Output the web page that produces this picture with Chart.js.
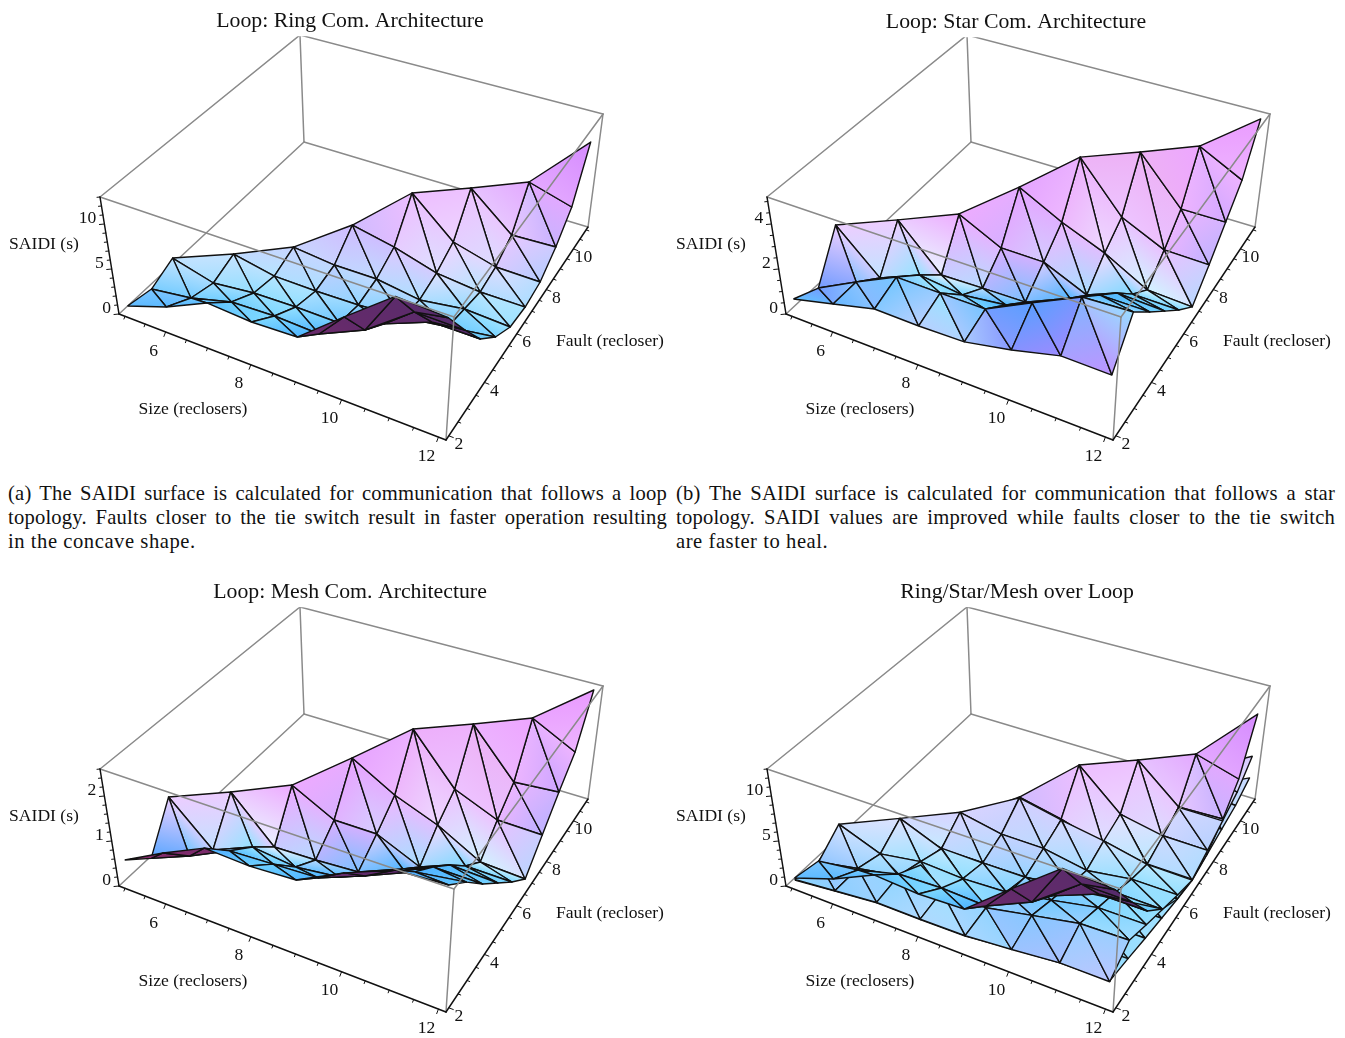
<!DOCTYPE html>
<html><head><meta charset="utf-8">
<script src="https://cdn.jsdelivr.net/npm/chart.js@4/dist/chart.umd.js"></script>
<style>
html,body{margin:0;padding:0;background:#fff;width:1345px;height:1038px;overflow:hidden}
canvas{position:absolute;filter:blur(.4px)}
.cap{position:absolute;top:481px;width:659px;font:20.6px/24px "Liberation Serif",serif;color:#111;letter-spacing:.2px}
.cap div{text-align:justify;text-align-last:justify;white-space:nowrap}
.cap div.last{text-align-last:left;letter-spacing:.55px}
</style></head><body>
<canvas id="c0" width="672" height="470" style="left:0;top:0"></canvas>
<canvas id="c1" width="673" height="470" style="left:672px;top:0"></canvas>
<canvas id="c2" width="672" height="466" style="left:0;top:572px"></canvas>
<canvas id="c3" width="673" height="466" style="left:672px;top:572px"></canvas>
<div class="cap" style="left:8px"><div>(a) The SAIDI surface is calculated for communication that follows a loop</div><div>topology. Faults closer to the tie switch result in faster operation resulting</div><div class="last">in the concave shape.</div></div>
<div class="cap" style="left:676px"><div>(b) The SAIDI surface is calculated for communication that follows a star</div><div>topology. SAIDI values are improved while faults closer to the tie switch</div><div class="last">are faster to heal.</div></div>
<script>
// Network sizes (reclosers); each row of a series holds faults 2 .. size-1
const sizes=[5,6,7,8,9,10,11,12];
const firstFault=2;
const ringValues=[
[0.77,0.24,1.39],
[2.38,0.90,0.18,1.13],
[4.56,2.15,0.70,0.23,1.22],
[4.26,2.33,0.82,0.18,0.75,3.03],
[4.45,2.13,0.77,0.28,0.78,2.07,6.00],
[8.48,4.37,2.42,0.60,0.08,0.72,1.94,5.90],
[12.54,8.15,4.41,1.30,0.76,0.22,0.68,2.04,5.93],
[12.20,8.07,4.39,1.96,0.49,0.21,0.60,2.22,4.54,9.87]];
const starValues=[
[0.62,0.14,2.05],
[1.08,1.07,0.30,2.00],
[1.56,1.96,1.08,0.14,1.99],
[1.53,1.94,0.86,0.20,1.07,2.94],
[1.57,1.94,1.10,0.24,1.07,1.96,4.04],
[1.97,2.92,1.96,1.09,0.25,1.19,1.91,4.01],
[2.48,3.90,2.93,2.00,0.96,0.18,1.04,2.00,4.02],
[2.45,4.00,2.92,1.91,0.94,0.09,1.00,2.01,3.04,5.01]];
const meshValues=[
[0.555,0.108,1.025],
[1.05,0.49,0.148,0.998],
[1.50,0.94,0.541,0.069,1.017],
[1.46,0.99,0.430,0.102,0.534,1.495],
[1.518,1.04,0.550,0.166,0.537,0.957,2.022],
[2.04,1.44,0.98,0.57,0.127,0.594,0.954,2.004],
[2.475,1.89,1.467,1.000,0.482,0.089,0.563,0.975,2.012],
[2.54,2.04,1.459,0.957,0.471,0.043,0.544,1.052,1.522,2.527]];
const sizeTicks=[6,8,10,12];
const faultTicks=[2,4,6,8,10];
const titles=["Loop: Ring Com. Architecture","Loop: Star Com. Architecture","Loop: Mesh Com. Architecture","Ring/Star/Mesh over Loop"];
const saidiTicks=[[0,5,10],[0,2,4],[0,1,2],[0,5,10]];
const saidiMinor=[1,0.5,0.2,1];
const saidiTop=[13,5.2,2.6,13];
const surfaces=[[ringValues],[starValues],[meshValues],[ringValues,starValues,meshValues]];

// ---- view of the box ----
const sMin=4.85,sMax=12.15,fMin=1.85,fMax=11.15;
const panels=[{dx:0,cx:350,tp:8},{dx:-5,cx:344,tp:9},{dx:0,cx:350,tp:7},{dx:-5,cx:345,tp:7}];
function homo(p){const [x0,y0]=p[0],[x1,y1]=p[1],[x2,y2]=p[2],[x3,y3]=p[3];
 const dx1=x1-x2,dx2=x3-x2,sx=x0-x1+x2-x3,dy1=y1-y2,dy2=y3-y2,sy=y0-y1+y2-y3,den=dx1*dy2-dx2*dy1;
 const g=(sx*dy2-dx2*sy)/den,h=(dx1*sy-sx*dy1)/den;
 const a=x1-x0+g*x1,b=x3-x0+h*x3,d=y1-y0+g*y1,e=y3-y0+h*y3;
 return (u,v)=>{const q=g*u+h*v+1;return [(a*u+b*v+x0)/q,(d*u+e*v+y0)/q];};}
const floorMap=homo([[119,314],[446,440],[588,227],[304,142]]);
const topMap=homo([[100,197],[454,317],[603,114],[300,35]]);
function proj(u,v,w,dx){const a=floorMap(u,v),b=topMap(u,v);return {x:a[0]+(b[0]-a[0])*w+dx,y:a[1]+(b[1]-a[1])*w};}
const th=27*Math.PI/180,el=46*Math.PI/180,Lz=0.38;
const U=[Math.cos(th),-Math.sin(th)*Math.sin(el),Math.sin(th)*Math.cos(el)];
const V=[Math.sin(th),Math.cos(th)*Math.sin(el),-Math.cos(th)*Math.cos(el)];
const W=[0,Math.cos(el),Math.sin(el)];
const nrm=a=>{const l=Math.hypot(a[0],a[1],a[2])||1;return a.map(x=>x/l);};
const lights=[{c:[.8,0,0],d:nrm([1.5,-.5,2])},{c:[0,.8,0],d:nrm([1.5,1.5,2])},{c:[0,0,.8],d:nrm([-.5,1.5,2])}];
const ambient=[.312,.188,.48];
const toView=n=>[0,1,2].map(i=>n[0]*U[i]+n[1]*V[i]+n[2]*W[i]);
function shade(n){const c=ambient.slice();for(const L of lights){const k=Math.max(0,n[0]*L.d[0]+n[1]*L.d[1]+n[2]*L.d[2]);for(let i=0;i<3;i++)c[i]+=L.c[i]*k;}return [Math.min(.93,c[0]),Math.min(1,c[1]),Math.min(1,c[2])];}
const css=c=>`rgb(${c.map(x=>Math.round(x*255)).join(',')})`;
const cross=(a,b)=>[a[1]*b[2]-a[2]*b[1],a[2]*b[0]-a[0]*b[2],a[0]*b[1]-a[1]*b[0]];
const sub=(a,b)=>[a[0]-b[0],a[1]-b[1],a[2]-b[2]];

function triGradient(ctx,p,c){
 let best=[0,1,2],md=-1;
 for(const [i,j,k] of [[0,1,2],[0,2,1],[1,2,0]]){const d=Math.hypot(...sub(c[i],c[j]));if(d>md){md=d;best=[i,j,k];}}
 const [i,j,k]=best;if(md<.004)return css(c[0]);
 const ab=sub(c[j],c[i]),ac=sub(c[k],c[i]);
 const t=Math.max(0,Math.min(1,(ab[0]*ac[0]+ab[1]*ac[1]+ab[2]*ac[2])/(md*md)));
 const qx=p[i].x+(p[j].x-p[i].x)*t,qy=p[i].y+(p[j].y-p[i].y)*t;
 let nx=-(p[k].y-qy),ny=p[k].x-qx;const l=Math.hypot(nx,ny)||1;nx/=l;ny/=l;
 const d=(p[j].x-p[i].x)*nx+(p[j].y-p[i].y)*ny;
 const g=ctx.createLinearGradient(p[i].x,p[i].y,p[i].x+nx*d,p[i].y+ny*d);
 g.addColorStop(0,css(c[i]));g.addColorStop(1,css(c[j]));return g;
}
function surfaceTriangles(values,top,dx,ctx){
 const P=(a,b)=>{const s=sizes[a],f=firstFault+b;return [(s-sMin)/(sMax-sMin),(f-fMin)/(fMax-fMin),values[a][b]/top];};
 const has=(a,b)=>a>=0&&a<values.length&&b>=0&&b<values[a].length;
 const tris=[];
 values.forEach((row,a)=>{ if(a+1>=values.length)return;
  row.forEach((_,b)=>{
   if(has(a,b+1))tris.push([[a,b],[a+1,b],[a,b+1]]);
   if(has(a,b+1))tris.push([[a+1,b],[a+1,b+1],[a,b+1]]);
   else tris.push([[a,b],[a+1,b],[a+1,b+1]]);
  });});
 const faceN=t=>{const p=t.map(q=>P(q[0],q[1]).map((x,i)=>i==2?x*Lz:x));return cross(sub(p[1],p[0]),sub(p[2],p[0]));};
 const acc={};
 tris.forEach(t=>{const n=faceN(t);t.forEach(q=>{const k=q.join();acc[k]=acc[k]||[0,0,0];for(let i=0;i<3;i++)acc[k][i]+=n[i];});});
 return tris.map(t=>{
  const q3=t.map(q=>P(q[0],q[1]));
  const pts=q3.map(q=>proj(q[0],q[1],q[2],dx));
  const area=(pts[1].x-pts[0].x)*(pts[2].y-pts[0].y)-(pts[1].y-pts[0].y)*(pts[2].x-pts[0].x);
  const back=area>0;
  // the underside only receives the ambient purple, warmer toward the small sizes
  const cols=q3.map((q,i)=>back?[.53-.2*q[0],.17,.42]:shade(nrm(toView(acc[t[i].join()]))));
  const c=[0,1,2].map(i=>q3.reduce((m,q)=>m+q[i],0)/3);
  const depth=c[0]*U[2]+c[1]*V[2]+c[2]*0.45*W[2];
  return {pts,depth,fill:triGradient(ctx,pts,cols)};
 });
}
const line=(pts,color,width,order)=>({data:pts,showLine:true,borderColor:color,borderWidth:width,pointRadius:0,fill:false,order,borderCapStyle:'round',borderJoinStyle:'round'});

const overlay={id:'overlay',afterDraw(chart,_,o){
 const ctx=chart.ctx;ctx.save();ctx.fillStyle='#111';ctx.textBaseline='middle';
 for(const t of o.items){ctx.font=t.font;ctx.textAlign=t.align;
  ctx.fillText(t.text,chart.scales.x.getPixelForValue(t.x),chart.scales.y.getPixelForValue(t.y));}
 ctx.restore();}};

panels.forEach((pn,idx)=>{
 const cv=document.getElementById('c'+idx),ctx=cv.getContext('2d'),dx=pn.dx,top=saidiTop[idx];
 const ds=[];
 const box=(a,b,c,color,w,order)=>ds.push(line([proj(...a,dx),proj(...b,dx)],color,w,order));
 const gray='#8a8a8a';
 [[[0,1,0],[0,1,1]],[[0,1,0],[0,0,0]],[[0,1,0],[1,1,0]],[[0,0,1],[0,1,1]],[[0,1,1],[1,1,1]]].forEach(e=>box(e[0],e[1],0,gray,1.5,5000));
 let tris=[];surfaces[idx].forEach(v=>{tris=tris.concat(surfaceTriangles(v,top,dx,ctx));});
 tris.sort((a,b)=>a.depth-b.depth);
 tris.forEach((t,i)=>ds.push({data:[...t.pts,t.pts[0]],showLine:true,borderColor:'#111',borderWidth:1.4,pointRadius:0,fill:'shape',backgroundColor:t.fill,order:4000-i,borderJoinStyle:'round'}));
 [[[0,0,1],[1,0,1]],[[1,0,1],[1,1,1]],[[1,0,0],[1,0,1]],[[1,1,0],[1,1,1]]].forEach(e=>box(e[0],e[1],0,gray,1.5,-100));
 const blk='#111';
 box([0,0,0],[1,0,0],0,blk,1.5,-200);box([1,0,0],[1,1,0],0,blk,1.5,-200);box([0,0,0],[0,0,1],0,blk,1.5,-200);
 const items=[];
 const su=s=>(s-sMin)/(sMax-sMin),fv=f=>(f-fMin)/(fMax-fMin);
 for(let s=5;s<=12;s+=.5){const m=sizeTicks.includes(s),p=proj(su(s),0,0,dx),l=m?5:3;
  ds.push(line([p,{x:p.x-l*.35,y:p.y+l*.9}],blk,1,-200));}
 for(let f=2;f<=11;f+=.5){const m=faultTicks.includes(f),p=proj(1,fv(f),0,dx),l=m?5:3;
  ds.push(line([p,{x:p.x+l*.9,y:p.y+l*.35}],blk,1,-200));}
 const zMinor=saidiMinor[idx],zt=saidiTicks[idx];
 for(let k=0;k*zMinor<=top;k++){const z=k*zMinor,m=zt.some(t=>Math.abs(t-z)<1e-6),p=proj(0,0,z/top,dx),l=m?5:3;
  ds.push(line([p,{x:p.x-l,y:p.y+l*.1}],blk,1,-200));}
 const tf='17.6px "Liberation Serif"';
 sizeTicks.forEach(s=>{const p=proj(su(s),0,0,dx);items.push({text:String(s),x:p.x-12,y:p.y+19,font:tf,align:'center'});});
 faultTicks.forEach(f=>{const p=proj(1,fv(f),0,dx);items.push({text:String(f),x:p.x+10,y:p.y+8.5,font:tf,align:'center'});});
 zt.forEach(z=>{const p=proj(0,0,z/top,dx);items.push({text:String(z),x:p.x-8,y:p.y-6,font:tf,align:'right'});});
 items.push({text:'SAIDI (s)',x:44+dx,y:244,font:tf,align:'center'});
 items.push({text:'Size (reclosers)',x:193+dx,y:409,font:tf,align:'center'});
 items.push({text:'Fault (recloser)',x:610+dx,y:341,font:tf,align:'center'});
 const fs=21.8,titleH=pn.tp+fs*1.2+2,padL=2*pn.cx-cv.width;
 new Chart(cv,{type:'scatter',data:{datasets:ds},plugins:[overlay],options:{
  responsive:false,animation:false,devicePixelRatio:1,events:[],
  layout:{padding:{left:padL,right:0,top:0,bottom:0}},
  scales:{x:{type:'linear',display:false,min:padL,max:cv.width},y:{type:'linear',display:false,reverse:true,min:titleH,max:cv.height}},
  plugins:{legend:{display:false},tooltip:{enabled:false},
   title:{display:true,text:titles[idx],color:'#111',font:{family:'"Liberation Serif"',size:fs,weight:'normal',lineHeight:1.2},padding:{top:pn.tp,bottom:2}},
   overlay:{items}}}});
});
</script></body></html>
